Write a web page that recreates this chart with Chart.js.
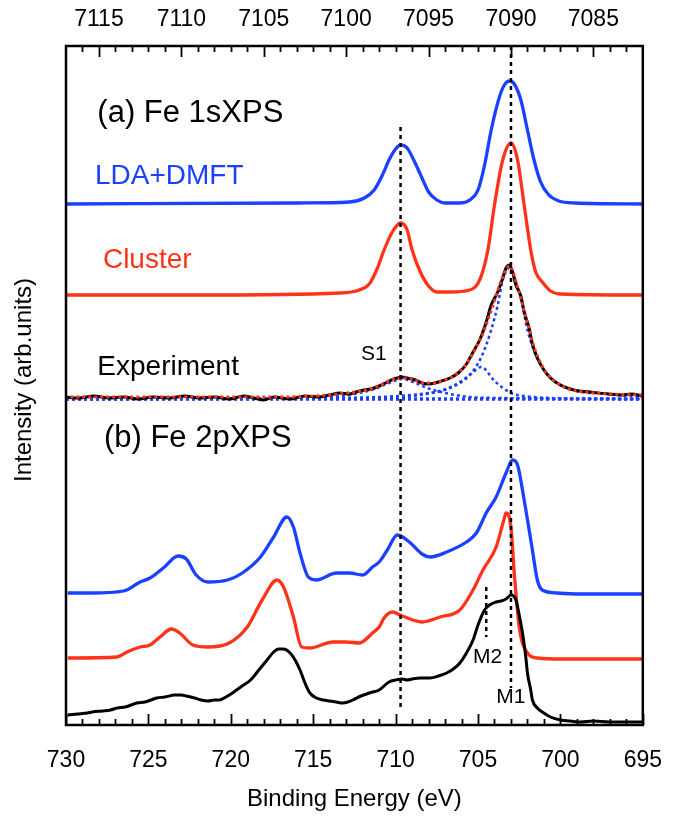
<!DOCTYPE html>
<html>
<head>
<meta charset="utf-8">
<script src="https://cdn.jsdelivr.net/npm/chart.js@4.4.1/dist/chart.umd.min.js"></script>
<style>
  html, body { margin: 0; padding: 0; background: #fff; }
</style>
</head>
<body>
<canvas id="xps" width="684" height="817"></canvas>
<script>
// tick labels
const topTicks = [7115, 7110, 7105, 7100, 7095, 7090, 7085];      // Fe 1s binding energy (eV)
const bottomTicks = [730, 725, 720, 715, 710, 705, 700, 695];     // Fe 2p binding energy (eV)

// (a) Fe 1s XPS  [energy, intensity (arb.)]
const dmft1s = [[7117.1,521],[7102.8,522],[7099.8,523],[7098.9,527],[7098.3,535],[7097.8,550],[7097.4,565],[7097.0,576],[7096.7,580],[7096.3,577],[7095.9,565],[7095.4,547],[7095.0,533],[7094.5,525],[7094.0,522],[7093.1,522],[7092.5,525],[7092.0,535],[7091.6,560],[7091.2,595],[7090.7,628],[7090.4,640],[7090.1,644],[7089.8,641],[7089.4,625],[7089.0,595],[7088.6,565],[7088.2,543],[7087.7,530],[7087.1,524],[7086.1,522],[7082.0,521]];
const cluster1s = [[7117.1,430],[7108.9,430],[7100.4,432],[7099.2,435],[7098.6,441],[7098.1,457],[7097.7,475],[7097.2,493],[7096.7,502],[7096.3,495],[7096.0,475],[7095.5,453],[7095.0,439],[7094.5,433],[7093.7,433],[7092.5,435],[7091.9,445],[7091.4,475],[7091.0,520],[7090.5,565],[7090.0,582],[7089.6,565],[7089.2,520],[7088.8,475],[7088.5,453],[7088.1,443],[7087.6,434],[7087.0,431],[7082.0,430]];
const exp1s = [[7117.1,328],[7116.2,327],[7115.3,329],[7114.4,327],[7113.5,328],[7112.6,326],[7111.7,328],[7110.7,327],[7109.8,329],[7108.9,327],[7108.0,328],[7107.1,326],[7106.2,329],[7105.6,327],[7105.0,325],[7104.4,328],[7103.4,326],[7102.5,329],[7101.7,328],[7101.0,330],[7100.4,332],[7099.8,331],[7099.4,333],[7098.9,335],[7098.5,336],[7098.0,339],[7097.5,343],[7097.1,346],[7096.6,348],[7096.3,347],[7095.8,345],[7095.4,342],[7095.0,341],[7094.6,342],[7094.2,344],[7093.7,347],[7093.2,352],[7092.7,361],[7092.3,373],[7091.9,385],[7091.5,403],[7091.2,420],[7090.8,433],[7090.5,447],[7090.3,457],[7090.1,460],[7089.9,453],[7089.7,440],[7089.4,429],[7089.2,413],[7088.9,397],[7088.7,381],[7088.4,367],[7088.0,355],[7087.6,347],[7087.0,340],[7086.2,335],[7085.2,333],[7084.1,331],[7083.3,330],[7082.7,331],[7082.0,329]];
const fit1s = [[7117.1,328],[7110,328],[7104,328],[7101,330],[7100,332],[7099,334],[7098,339],[7097.4,344],[7096.7,347],[7096,346],[7095.3,342],[7094.7,342],[7094,345],[7093.4,350],[7092.8,359],[7092.3,372],[7091.8,388],[7091.4,405],[7091,424],[7090.6,444],[7090.3,455],[7090.1,459],[7089.9,454],[7089.6,438],[7089.2,414],[7088.9,396],[7088.6,378],[7088.2,362],[7087.8,351],[7087.2,342],[7086.5,336],[7085.5,333],[7084,331],[7082,330]];
const compMain1s = [[7117,326],[7100.4,327],[7098,328],[7095.5,331],[7093.7,337],[7092.5,350],[7091.8,368],[7091.2,395],[7090.8,420],[7090.5,445],[7090.1,457],[7089.8,447],[7089.4,427],[7089.0,395],[7088.4,367],[7087.6,347],[7086.2,335],[7084.1,331],[7082.0,328]];
const compM2_1s = [[7117,326],[7098.6,327],[7096.7,328],[7095.5,330],[7094.3,334],[7093.4,340],[7092.5,350],[7091.8,358],[7091.0,344],[7090.0,332],[7089.2,329],[7087.6,327],[7084.6,326],[7082,326]];
const compS1_1s = [[7117,326],[7105.9,326],[7102.8,327],[7100.4,329],[7099.2,332],[7098.3,336],[7097.4,342],[7096.6,346],[7095.8,342],[7094.9,336],[7093.7,331],[7092.5,328],[7090.7,327],[7082,326]];
const background1s = [[7117,326],[7082,326]];

// (b) Fe 2p XPS  [energy, intensity (arb.)]
const dmft2p = [[729.9,132],[728.5,132],[726.5,134],[725.5,143],[724.9,147],[724.1,157],[723.2,169],[722.7,166],[722.1,150],[721.4,143],[720.2,145],[719.3,152],[718.2,168],[717.4,188],[716.6,208],[716.2,198],[715.8,172],[715.3,148],[714.8,145],[713.6,152],[712.8,152],[712.0,150],[711.4,158],[711.0,163],[710.5,175],[709.9,190],[709.1,182],[708.4,171],[707.9,168],[706.9,173],[705.7,183],[705.1,192],[704.5,212],[703.9,228],[703.3,252],[702.9,265],[702.6,260],[702.2,225],[701.7,175],[701.4,145],[701.1,135],[700.2,132],[698.8,131],[695.0,131]];
const cluster2p = [[729.9,67],[726.9,68],[726.3,73],[725.5,78],[724.9,80],[724.3,88],[723.6,96],[723.1,92],[722.3,80],[721.4,78],[720.1,82],[719.0,98],[718.1,125],[717.2,145],[716.8,138],[716.2,108],[715.7,78],[715.2,77],[713.8,83],[713.0,83],[712.2,82],[711.4,92],[711.0,98],[710.7,107],[710.2,113],[709.6,109],[708.4,103],[707.3,108],[706.1,115],[705.3,135],[704.7,155],[703.9,178],[703.4,207],[703.3,212],[703.0,198],[702.8,152],[702.5,98],[702.0,72],[701.4,67],[699.9,66],[695.0,66]];
const exp2p = [[729.9,10],[729.3,11],[728.7,12],[728.4,13],[727.8,14],[727.3,15],[726.9,17],[726.4,18],[725.7,22],[725.2,23],[724.5,27],[724.0,28],[723.4,30],[723.0,30],[722.7,29],[722.2,27],[721.8,25],[721.4,24],[721.0,25],[720.7,25],[720.3,28],[719.9,32],[719.4,38],[718.8,45],[718.3,55],[717.8,65],[717.4,73],[717.1,76],[716.8,76],[716.4,72],[716.1,65],[715.8,55],[715.5,42],[715.2,32],[714.8,27],[714.4,25],[714.0,24],[713.6,23],[713.2,22],[712.9,23],[712.6,25],[712.1,29],[711.6,32],[711.0,35],[710.4,43],[710.0,45],[709.6,46],[709.3,45],[709.0,46],[708.5,47],[707.9,47],[707.4,49],[706.9,52],[706.5,56],[706.1,62],[705.7,72],[705.3,85],[705.0,100],[704.6,115],[704.3,120],[703.9,123],[703.6,124],[703.3,126],[703.0,130],[702.7,125],[702.5,110],[702.3,92],[702.1,68],[702.0,52],[701.8,35],[701.7,25],[701.4,17],[701.1,13],[700.6,8],[700.0,5],[699.4,4],[698.8,3],[698.0,4],[697.0,3],[696.0,3],[695.0,3]];

// guide lines (2p energy scale)
const guideS1 = [[709.7,598],[709.7,15]];
const guideM1 = [[703.0,679],[703.0,37]];
const guideM2 = [[704.5,138],[704.5,88]];

const BLUE = '#1a41ff';
const RED = '#ff3319';
const FONT = "'Liberation Sans', Arial, Helvetica, sans-serif";

const pts = arr => arr.map(([x, y]) => ({ x, y }));
function line(data, color, axis, extra) {
  return Object.assign({
    data: pts(data), xAxisID: axis, yAxisID: 'y',
    borderColor: color, borderWidth: 3.3, pointRadius: 0,
    fill: false, cubicInterpolationMode: 'monotone'
  }, extra || {});
}
const dotted = (data, color, w, order) => line(data, color, 'x2', { borderWidth: w, borderDash: [3, 3], order });
const guide = data => line(data, '#000', 'x', { borderWidth: 2.5, borderDash: [4, 4], order: 0, cubicInterpolationMode: 'default', tension: 0 });

const notes = [
  { text: '(a) Fe 1sXPS', x: 728.1, y: 612, size: 31, color: '#000' },
  { text: 'LDA+DMFT', x: 728.24, y: 549, size: 28, color: BLUE },
  { text: 'Cluster', x: 727.76, y: 465, size: 28, color: RED },
  { text: 'Experiment', x: 728.1, y: 358, size: 28, color: '#000' },
  { text: 'S1', x: 712.1, y: 371, size: 21, color: '#000' },
  { text: '(b) Fe 2pXPS', x: 727.7, y: 287, size: 31, color: '#000' },
  { text: 'M2', x: 705.3, y: 68, size: 21, color: '#000' },
  { text: 'M1', x: 703.9, y: 28, size: 21, color: '#000' }
];

// frame, inward ticks, in-plot labels and the y title
const decor = {
  id: 'decor',
  afterDatasetsDraw(chart) {
    const { ctx, chartArea: a, scales } = chart;
    ctx.save();
    ctx.strokeStyle = '#000';
    ctx.lineWidth = 1.8;
    ctx.beginPath();
    for (let e = 695; e <= 730; e++) {
      const px = Math.round(scales.x.getPixelForValue(e)) + 0.5;
      const len = e % 5 === 0 ? 11 : 6;
      ctx.moveTo(px, a.bottom); ctx.lineTo(px, a.bottom - len);
    }
    for (let e = 7083; e <= 7116; e++) {
      const px = Math.round(scales.x2.getPixelForValue(e)) + 0.5;
      const len = e % 5 === 0 ? 11 : 6;
      ctx.moveTo(px, a.top); ctx.lineTo(px, a.top + len);
    }
    ctx.stroke();
    ctx.lineWidth = 2.5;
    ctx.strokeRect(a.left, a.top, a.right - a.left, a.bottom - a.top);

    ctx.textAlign = 'left';
    ctx.textBaseline = 'middle';
    notes.forEach(n => {
      ctx.fillStyle = n.color;
      ctx.font = n.size + 'px ' + FONT;
      ctx.fillText(n.text, scales.x.getPixelForValue(n.x), scales.y.getPixelForValue(n.y));
    });

    ctx.translate(31, 380);
    ctx.rotate(-Math.PI / 2);
    ctx.textAlign = 'center';
    ctx.textBaseline = 'alphabetic';
    ctx.fillStyle = '#000';
    ctx.font = '24px ' + FONT;
    ctx.fillText('Intensity (arb.units)', 0, 0);
    ctx.restore();
  }
};

const tickFont = { family: FONT, size: 23 };

new Chart(document.getElementById('xps'), {
  type: 'line',
  data: {
    datasets: [
      guide(guideS1), guide(guideM1), guide(guideM2),
      line(dmft1s, BLUE, 'x2', { order: 5 }),
      line(cluster1s, RED, 'x2', { order: 5 }),
      dotted(fit1s, RED, 3, 1),
      line(exp1s, '#000', 'x2', { borderWidth: 3, order: 2 }),
      dotted(compMain1s, BLUE, 2.5, 3),
      dotted(compM2_1s, BLUE, 2.5, 3),
      dotted(compS1_1s, BLUE, 2.5, 3),
      dotted(background1s, BLUE, 3.5, 3),
      line(dmft2p, BLUE, 'x', { order: 5 }),
      line(cluster2p, RED, 'x', { order: 5 }),
      line(exp2p, '#000', 'x', { borderWidth: 3, order: 4 })
    ]
  },
  options: {
    responsive: false,
    animation: false,
    layout: { padding: { left: 0, right: 41, top: 0, bottom: 0 } },
    plugins: { legend: { display: false }, tooltip: { enabled: false } },
    scales: {
      x: {
        type: 'linear', position: 'bottom', min: 695, max: 730, reverse: true,
        grid: { display: false, drawTicks: false }, border: { display: false },
        afterBuildTicks: s => { s.ticks = bottomTicks.map(v => ({ value: v })); },
        afterFit: s => { s.height = 92; },
        ticks: { font: tickFont, color: '#000', padding: 22, maxRotation: 0, callback: v => String(v) },
        title: { display: true, text: 'Binding Energy (eV)', color: '#000', font: { family: FONT, size: 24 }, padding: { top: 0, bottom: 3 } }
      },
      x2: {
        type: 'linear', position: 'top', min: 7082, max: 7117, reverse: true,
        grid: { display: false, drawTicks: false }, border: { display: false },
        afterBuildTicks: s => { s.ticks = topTicks.map(v => ({ value: v })); },
        afterFit: s => { s.height = 46; },
        ticks: { font: tickFont, color: '#000', padding: 13, maxRotation: 0, callback: v => String(v) }
      },
      y: {
        type: 'linear', min: 0, max: 679,
        grid: { display: false, drawTicks: false }, border: { display: false },
        ticks: { display: false },
        afterFit: s => { s.width = 66; }
      }
    }
  },
  plugins: [decor]
});
</script>
</body>
</html>
